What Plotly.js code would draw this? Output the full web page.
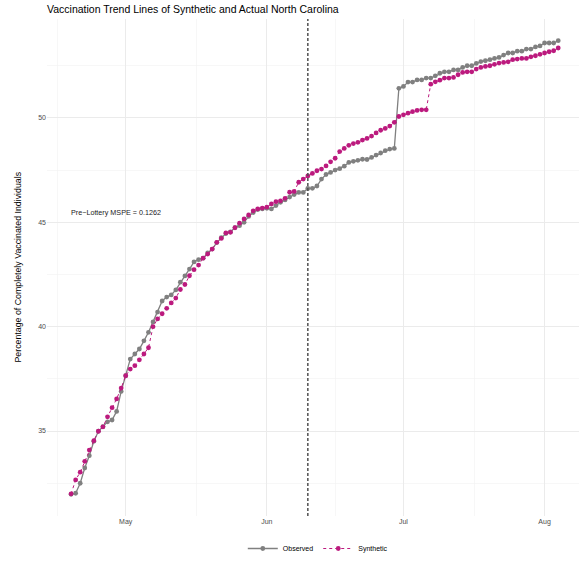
<!DOCTYPE html>
<html>
<head>
<meta charset="utf-8">
<script src="https://cdn.plot.ly/plotly-3.0.1.min.js"></script>
<style>
  html, body { margin: 0; padding: 0; overflow: hidden; background: #fff; }
  #chart { width: 579px; height: 563px; }
</style>
</head>
<body>
<div id="chart"></div>
<script>
// ---- Data ----
const startDate = '2021-04-19';   // first daily observation
const nDays = 108;                 // through 2021-08-04
const lotteryDate = '2021-06-10';

const observed = [
  31.97, 32.02, 32.50, 33.23, 33.82, 34.51, 34.99, 35.21, 35.44, 35.53,
  35.94, 36.90, 37.65, 38.45, 38.69, 38.93, 39.32, 39.73, 40.23, 40.70,
  41.23, 41.42, 41.52, 41.76, 42.13, 42.43, 42.76, 43.10, 43.21, 43.28,
  43.53, 43.72, 44.03, 44.27, 44.46, 44.54, 44.75, 44.84, 45.00, 45.28,
  45.47, 45.61, 45.64, 45.67, 45.64, 45.80, 45.96, 46.07, 46.21, 46.33,
  46.43, 46.43, 46.62, 46.63, 46.74, 47.07, 47.29, 47.39, 47.50, 47.57,
  47.69, 47.87, 47.92, 47.97, 48.02, 48.01, 48.11, 48.22, 48.32, 48.43,
  48.51, 48.54, 51.42, 51.51, 51.72, 51.72, 51.82, 51.82, 51.91, 51.91,
  52.02, 52.14, 52.21, 52.21, 52.30, 52.30, 52.42, 52.50, 52.50, 52.61,
  52.70, 52.74, 52.79, 52.85, 52.90, 53.01, 53.11, 53.11, 53.20, 53.20,
  53.30, 53.30, 53.40, 53.45, 53.59, 53.59, 53.59, 53.70
];

const synthetic = [
  31.99, 32.66, 33.03, 33.55, 34.09, 34.54, 34.99, 35.20, 35.68, 36.12,
  36.54, 37.06, 37.65, 37.97, 38.13, 38.41, 38.69, 38.99, 40.00, 40.37,
  40.62, 40.88, 41.14, 41.37, 41.78, 42.02, 42.44, 42.73, 42.95, 43.28,
  43.48, 43.72, 44.04, 44.23, 44.49, 44.52, 44.74, 44.96, 45.16, 45.35,
  45.55, 45.64, 45.68, 45.73, 45.88, 45.99, 46.03, 46.15, 46.44, 46.48,
  46.92, 47.07, 47.22, 47.34, 47.47, 47.55, 47.70, 47.90, 48.07, 48.39,
  48.54, 48.69, 48.77, 48.83, 48.94, 49.02, 49.13, 49.28, 49.41, 49.50,
  49.61, 49.79, 50.07, 50.15, 50.23, 50.30, 50.36, 50.39, 50.39, 51.62,
  51.73, 51.81, 51.91, 51.91, 51.94, 52.07, 52.18, 52.21, 52.21, 52.34,
  52.42, 52.47, 52.50, 52.57, 52.63, 52.66, 52.69, 52.79, 52.82, 52.85,
  52.85, 52.93, 52.98, 53.05, 53.11, 53.17, 53.22, 53.35
];

const seriesNames = ['Observed', 'Synthetic'];
const xTickVals = ['2021-05-01', '2021-06-01', '2021-07-01', '2021-08-01'];
const xTickText = ['May', 'Jun', 'Jul', 'Aug'];
const yTickVals = [35, 40, 45, 50];
const annotationText = 'Pre\u2212Lottery MSPE = 0.1262';
const titleText = 'Vaccination Trend Lines of Synthetic and Actual North Carolina';
const yTitleText = 'Percentage of Completely Vaccinated Individuals';

// ---- Build the daily date axis ----
const dates = [];
(function () {
  const d0 = new Date(startDate + 'T00:00:00Z');
  for (let i = 0; i < nDays; i++) {
    const d = new Date(d0.getTime() + i * 86400000);
    dates.push(d.toISOString().slice(0, 10));
  }
})();

const FONT = 'Liberation Sans, Arial, Helvetica, sans-serif';
const GREY = '#808080';
const MAGENTA = '#BC1A7E';

const traces = [
  {
    x: dates, y: observed, name: seriesNames[0],
    type: 'scatter', mode: 'lines+markers',
    line: { color: GREY, width: 1.3 },
    marker: { color: GREY, size: 4.8 }
  },
  {
    x: dates, y: synthetic, name: seriesNames[1],
    type: 'scatter', mode: 'lines+markers',
    line: { color: MAGENTA, width: 1.0, dash: '3px,3px' },
    marker: { color: MAGENTA, size: 4.8 }
  }
];

const layout = {
  width: 579, height: 563,
  margin: { l: 47, r: 0, t: 19, b: 46 },
  paper_bgcolor: '#ffffff',
  plot_bgcolor: '#ffffff',
  font: { family: FONT, size: 7, color: '#4d4d4d' },
  title: {
    text: titleText,
    font: { family: FONT, size: 10.5, color: '#000000' },
    xref: 'paper', x: 0, xanchor: 'left',
    yref: 'container', y: 1 - 9.5 / 563, yanchor: 'middle'
  },
  xaxis: {
    type: 'date',
    range: ['2021-04-13 17:00', '2021-08-08 13:30'],
    tickmode: 'array', tickvals: xTickVals, ticktext: xTickText,
    ticks: '', showline: false, zeroline: false,
    showgrid: true, gridcolor: '#EBEBEB', gridwidth: 1,
    tickfont: { family: FONT, size: 7, color: '#4d4d4d' },
    minor: {
      tickmode: 'array',
      tickvals: ['2021-04-16', '2021-05-16 12:00', '2021-06-16', '2021-07-16 12:00'],
      showgrid: true, gridcolor: '#F2F2F2', gridwidth: 0.6, ticks: ''
    }
  },
  yaxis: {
    range: [30.93, 54.74],
    tickmode: 'array', tickvals: yTickVals,
    ticks: '', showline: false, zeroline: false,
    showgrid: true, gridcolor: '#EBEBEB', gridwidth: 1,
    tickfont: { family: FONT, size: 7, color: '#4d4d4d' },
    minor: {
      tickmode: 'array',
      tickvals: [32.5, 37.5, 42.5, 47.5, 52.5],
      showgrid: true, gridcolor: '#F2F2F2', gridwidth: 0.6, ticks: ''
    }
  },
  shapes: [
    {
      type: 'line', xref: 'x', yref: 'paper',
      x0: lotteryDate, x1: lotteryDate, y0: 0, y1: 1,
      line: { color: '#505050', width: 1.5, dash: '3px,2px' }
    }
  ],
  annotations: [
    {
      text: annotationText, xref: 'x', yref: 'y',
      x: '2021-04-18 11:00', y: 45.48,
      xanchor: 'left', yanchor: 'middle', showarrow: false,
      font: { family: FONT, size: 7.2, color: '#1a1a1a' }
    },
    {
      text: yTitleText, xref: 'paper', yref: 'paper',
      x: (17 - 47) / 532, y: 0.5,
      xanchor: 'center', yanchor: 'middle', textangle: -90, showarrow: false,
      font: { family: FONT, size: 8.8, color: '#000000' }
    }
  ],
  showlegend: true,
  legend: {
    orientation: 'h',
    x: 0.509, xanchor: 'center',
    y: -0.066, yanchor: 'middle',
    font: { family: FONT, size: 7, color: '#000000' },
    itemwidth: 30,
    bgcolor: 'rgba(0,0,0,0)'
  }
};

Plotly.newPlot('chart', traces, layout, { displayModeBar: false, staticPlot: true });
</script>
</body>
</html>
